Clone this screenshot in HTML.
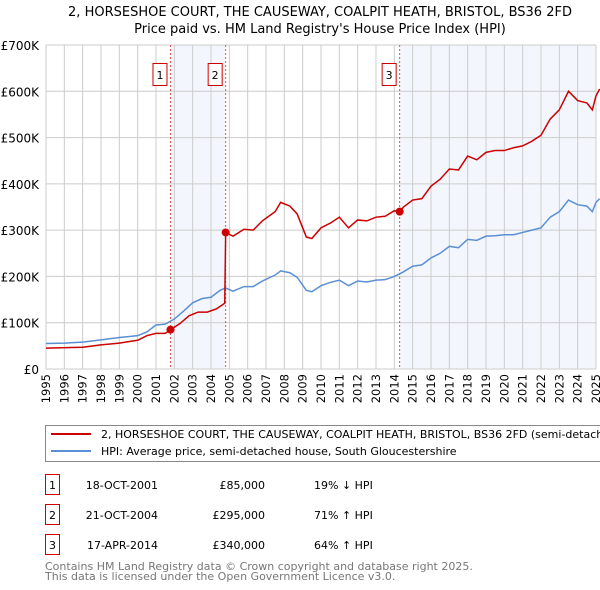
<!DOCTYPE html>
<html><head><meta charset="utf-8"><style>
body{margin:0;background:#fff;font-family:"DejaVu Sans","Liberation Sans",sans-serif;}
svg{display:block}
</style></head><body>
<svg id="chart" width="600" height="590" viewBox="0 0 600 590">
<text x="320" y="16" font-size="13" text-anchor="middle">2, HORSESHOE COURT, THE CAUSEWAY, COALPIT HEATH, BRISTOL, BS36 2FD</text>
<text x="320" y="33" font-size="13" text-anchor="middle">Price paid vs. HM Land Registry's House Price Index (HPI)</text>
<g id="plot"></g>
<g>
<rect x="45.5" y="425.5" width="560" height="36" fill="#fff" stroke="#888"/>
<line x1="51" y1="434" x2="91" y2="434" stroke="#cc0000" stroke-width="2"/>
<text x="101" y="438" font-size="11">2, HORSESHOE COURT, THE CAUSEWAY, COALPIT HEATH, BRISTOL, BS36 2FD (semi-detached house)</text>
<line x1="51" y1="451" x2="91" y2="451" stroke="#5b8fd4" stroke-width="2"/>
<text x="101" y="455" font-size="11">HPI: Average price, semi-detached house, South Gloucestershire</text>
</g>
<g id="table" font-size="11"></g>
<text x="45" y="570" font-size="11" fill="#777">Contains HM Land Registry data © Crown copyright and database right 2025.</text>
<text x="45" y="580" font-size="11" fill="#777">This data is licensed under the Open Government Licence v3.0.</text>
</svg>
<script>
const hpiT=[1995,1996,1997,1998,1999,2000,2000.5,2001,2001.5,2002,2002.5,2003,2003.5,2004,2004.5,2004.8,2005.2,2005.8,2006.3,2006.8,2007.5,2007.8,2008.3,2008.7,2009.2,2009.5,2010,2010.5,2011,2011.5,2012,2012.5,2013,2013.5,2014,2014.5,2015,2015.5,2016,2016.5,2017,2017.5,2018,2018.5,2019,2019.5,2020,2020.5,2021,2021.5,2022,2022.5,2023,2023.5,2024,2024.5,2024.8,2025,2025.2];
const hpiV=[55,56,58,63,68,72,80,95,97,108,125,143,152,155,170,175,168,178,178,190,203,212,208,198,170,167,180,187,192,180,190,188,192,193,200,210,222,225,240,250,265,262,280,278,287,288,290,290,295,300,305,328,340,365,355,352,340,360,368];
const redT=[1995,1997,1998,1999,2000,2000.5,2001,2001.5,2001.79,2002.3,2002.8,2003.3,2003.8,2004.3,2004.75,2004.8,2005.2,2005.8,2006.3,2006.8,2007.5,2007.8,2008.3,2008.7,2009.2,2009.5,2010,2010.5,2011,2011.5,2012,2012.5,2013,2013.5,2014,2014.29,2014.5,2015,2015.5,2016,2016.5,2017,2017.5,2018,2018.5,2019,2019.5,2020,2020.5,2021,2021.5,2022,2022.5,2023,2023.5,2024,2024.5,2024.8,2025,2025.2];
const redV=[45,47,52,56,62,72,77,77,85,98,115,123,123,130,142,295,287,302,300,320,340,360,352,335,285,282,305,315,328,305,322,320,328,330,342,340,350,365,368,395,410,432,430,460,452,468,472,472,478,482,492,505,540,560,600,580,575,560,590,605];
const saleLabels=["1","2","3"];
const saleT=[2001.79,2004.8,2014.29];
const saleV=[85,295,340];
const saleDates=["18-OCT-2001","21-OCT-2004","17-APR-2014"];
const salePrices=["£85,000","£295,000","£340,000"];
const saleHpi=["19% ↓ HPI","71% ↑ HPI","64% ↑ HPI"];
const yTicks=[0,100,200,300,400,500,600,700];
const yLabels=["£0","£100K","£200K","£300K","£400K","£500K","£600K","£700K"];
const years=[];for(let y=1995;y<=2025;y++)years.push(y);

const X0=46,X1=596,Y0=369,Y1=45;
const sx=t=>X0+(t-1995)/30*(X1-X0);
const sy=v=>Y0-v/700*(Y0-Y1);
const NS="http://www.w3.org/2000/svg";
const plot=document.getElementById('plot');
function mk(tag,at,parent){const e=document.createElementNS(NS,tag);for(const k in at)e.setAttribute(k,at[k]);(parent||plot).appendChild(e);return e;}

let r=mk('rect',{x:sx(saleT[0]),y:Y1,width:sx(saleT[1])-sx(saleT[0]),height:Y0-Y1,fill:'#eef3fc',opacity:0.7});


r=mk('rect',{x:sx(saleT[2]),y:Y1,width:X1-sx(saleT[2]),height:Y0-Y1,fill:'#eef3fc',opacity:0.7});



years.forEach(y=>{
 const l=mk('line',{x1:sx(y),x2:sx(y),y1:Y1,y2:Y0,stroke:'#ccc','stroke-width':1});
 
 
 const t=mk('text',{x:0,y:0,'font-size':11.5,'text-anchor':'end',transform:'translate('+(sx(y)+4)+',374) rotate(-90)'});t.textContent=y;
 
 
});
yTicks.forEach((v,i)=>{
 const l=mk('line',{x1:X0,x2:X1,y1:sy(v),y2:sy(v),stroke:'#ccc','stroke-width':1});
 
 
 const t=mk('text',{x:39,y:sy(v)+5,'font-size':12,'text-anchor':'end'});t.textContent=yLabels[i];
 
 
});
saleT.forEach((t,i)=>{
 const l=mk('line',{x1:sx(t),x2:sx(t),y1:Y1,y2:Y0,stroke:'#e05050','stroke-width':1,'stroke-dasharray':'2,2'});
 
 
 const b=mk('rect',{x:sx(t)-17.5,y:63.5,width:14,height:22,fill:'#fff',stroke:'#cc0000'});
 
 
 const tx=mk('text',{x:sx(t)-10.5,y:79,'font-size':11,'text-anchor':'middle'});tx.textContent=saleLabels[i];
 
 
});
let p=mk('polyline',{points:hpiT.map((t,i)=>sx(t)+','+sy(hpiV[i])).join(' '),fill:'none',stroke:'#5b8fd4','stroke-width':1.5});


p=mk('polyline',{points:redT.map((t,i)=>sx(t)+','+sy(redV[i])).join(' '),fill:'none',stroke:'#cc0000','stroke-width':1.5});


saleT.forEach((t,i)=>{
 const c=mk('circle',{cx:sx(t),cy:sy(saleV[i]),r:4,fill:'#cc0000'});
 
 
});
const tb=document.getElementById('table');
saleLabels.forEach((s,i)=>{
 const y=485+i*30;
 const b=mk('rect',{x:45.5,y:y-10.5,width:14,height:20,fill:'#fff',stroke:'#cc0000'},tb);
 
 
 const vals=[[s,52.5,'middle'],[saleDates[i],158,'end'],[salePrices[i],265,'end'],[saleHpi[i],314,'start']];
 vals.forEach(v=>{const t=mk('text',{x:v[1],y:y+4,'text-anchor':v[2]},tb);t.textContent=v[0];
 
 });
});
</script>
</body></html>
